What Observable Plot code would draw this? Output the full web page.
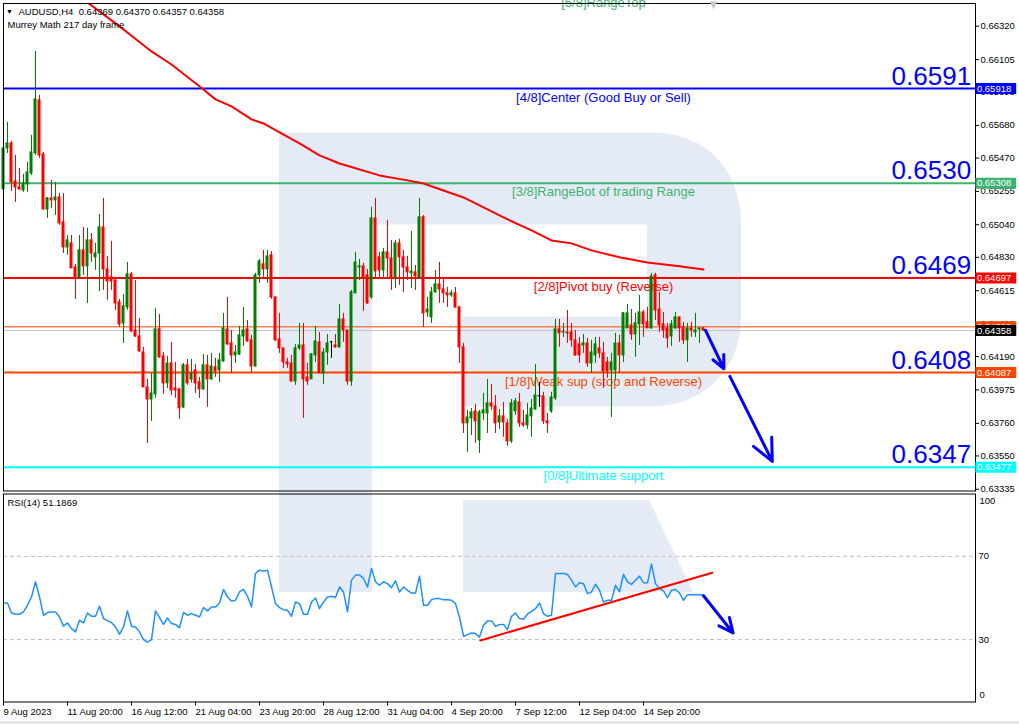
<!DOCTYPE html>
<html><head><meta charset="utf-8">
<script src="https://cdn.jsdelivr.net/npm/d3@7"></script>
<script src="https://cdn.jsdelivr.net/npm/@observablehq/plot@0.6"></script>
<style>
html,body{margin:0;padding:0;background:#fff;}
#wrap{position:relative;width:1019px;height:724px;overflow:hidden;}
#logo{position:absolute;left:0;top:0;}
#main{position:absolute;left:0;top:0;}
#rsi{position:absolute;left:0;top:491px;}
#status{position:absolute;left:0;top:721px;width:1019px;height:3px;background:#e6e6e6;}
</style></head>
<body><div id="wrap">
<svg id="logo" width="1019" height="724">
<path d="M279,132.6 H653 C705,132.6 741,170 741,222 V318 C741,370 703,406.5 651,406.5 H463 V316.5 H647 V224.5 H372 V592 H279 Z" fill="#e5ebf4"/>
<path d="M463,500 H649 L693,592 H463 Z" fill="#e5ebf4"/>
</svg>
<div id="main"></div><div id="rsi"></div><div id="status"></div>
</div>
<script>
// ---------- data ----------
const openP = [0.65268,0.65532,0.65564,0.65319,0.65281,0.65261,0.65300,0.65371,0.65500,0.65842,
0.65493,0.65139,0.65210,0.65197,0.65216,0.65055,0.64894,0.64920,0.64765,0.64701,
0.64875,0.64772,0.64939,0.64830,0.64855,0.65023,0.64752,0.64701,0.64681,0.64540,
0.64404,0.64507,0.64720,0.64359,0.64320,0.64217,0.63992,0.63914,0.63947,0.64366,
0.64192,0.64018,0.64146,0.63985,0.63979,0.63863,0.64134,0.64043,0.64101,0.64024,
0.63979,0.64134,0.64043,0.64121,0.64101,0.64159,0.64366,0.64275,0.64198,0.64204,
0.64320,0.64366,0.64295,0.64127,0.64714,0.64785,0.64752,0.64843,0.64572,0.64301,
0.64243,0.64153,0.64146,0.64030,0.64243,0.64262,0.64056,0.64043,0.64198,0.64282,
0.64082,0.64217,0.64282,0.64262,0.64250,0.64430,0.64359,0.64030,0.64598,0.64765,
0.64772,0.64714,0.64572,0.65081,0.64830,0.64746,0.64862,0.64823,0.64701,0.64920,
0.64830,0.64765,0.64727,0.64733,0.64701,0.65088,0.64475,0.64443,0.64604,0.64656,
0.64623,0.64598,0.64585,0.64598,0.64507,0.64250,0.63760,0.63792,0.63837,0.63650,
0.63824,0.63824,0.63889,0.63869,0.63766,0.63805,0.63760,0.63644,0.63837,0.63895,
0.63760,0.63747,0.63805,0.63850,0.63934,0.63934,0.63773,0.63837,0.63921,0.64366,
0.64346,0.64346,0.64346,0.64295,0.64269,0.64262,0.64275,0.64146,0.64198,0.64243,
0.64211,0.64153,0.64101,0.64101,0.64275,0.64198,0.64372,0.64391,0.64333,0.64398,
0.64475,0.64411,0.64372,0.64714,0.64494,0.64398,0.64372,0.64320,0.64372,0.64443,
0.64378,0.64295,0.64372,0.64346,0.64366,0.64372];
const highP = [0.65629,0.65700,0.65577,0.65487,0.65403,0.65365,0.65442,0.65616,0.66157,0.65874,
0.65506,0.65216,0.65326,0.65313,0.65242,0.65242,0.64971,0.64971,0.64785,0.64971,
0.65023,0.65017,0.64984,0.64920,0.65107,0.65210,0.64836,0.64933,0.64701,0.64559,
0.64591,0.64797,0.64733,0.64681,0.64436,0.64250,0.64043,0.64082,0.64501,0.64462,
0.64217,0.64192,0.64282,0.64153,0.63985,0.64146,0.64172,0.64172,0.64140,0.64056,
0.64204,0.64198,0.64211,0.64179,0.64211,0.64469,0.64572,0.64359,0.64262,0.64385,
0.64507,0.64424,0.64327,0.64727,0.64817,0.64875,0.64875,0.64868,0.64572,0.64469,
0.64243,0.64179,0.64198,0.64269,0.64404,0.64404,0.64146,0.64211,0.64385,0.64346,
0.64243,0.64333,0.64288,0.64333,0.64527,0.64469,0.64359,0.64617,0.64862,0.64817,
0.64791,0.64752,0.65152,0.65210,0.64862,0.64888,0.65068,0.64939,0.64939,0.64946,
0.64875,0.64836,0.64997,0.64778,0.65210,0.65100,0.64572,0.64636,0.64746,0.64797,
0.64694,0.64636,0.64617,0.64636,0.64514,0.64275,0.63844,0.63856,0.63882,0.63844,
0.63953,0.64043,0.64011,0.63940,0.63850,0.63895,0.63786,0.63914,0.63921,0.63953,
0.63844,0.63889,0.63914,0.64140,0.64024,0.63960,0.63824,0.63960,0.64430,0.64430,
0.64404,0.64488,0.64404,0.64359,0.64314,0.64333,0.64308,0.64295,0.64314,0.64314,
0.64282,0.64185,0.64211,0.64340,0.64327,0.64475,0.64527,0.64494,0.64469,0.64585,
0.64488,0.64507,0.64727,0.64727,0.64604,0.64475,0.64404,0.64424,0.64475,0.64443,
0.64411,0.64404,0.64411,0.64469,0.64378,0.64378];
const lowP = [0.65261,0.65500,0.65255,0.65184,0.65261,0.65249,0.65249,0.65358,0.65487,0.65468,
0.65133,0.65081,0.65145,0.65100,0.65036,0.64855,0.64843,0.64759,0.64559,0.64694,
0.64714,0.64533,0.64797,0.64746,0.64610,0.64617,0.64553,0.64617,0.64488,0.64378,
0.64275,0.64488,0.64346,0.64314,0.64217,0.63992,0.63631,0.63773,0.63921,0.64179,
0.63947,0.63985,0.63940,0.63921,0.63786,0.63856,0.64005,0.64018,0.63953,0.63921,
0.63972,0.63863,0.64037,0.64056,0.64024,0.64153,0.64262,0.64082,0.64146,0.64198,
0.64256,0.64282,0.64088,0.64121,0.64662,0.64701,0.64662,0.64559,0.64288,0.64211,
0.64114,0.64114,0.64024,0.64005,0.64230,0.63792,0.64005,0.64043,0.64153,0.64082,
0.64011,0.64134,0.64179,0.64243,0.64243,0.64282,0.64005,0.63998,0.64598,0.64681,
0.64482,0.64527,0.64559,0.64688,0.64688,0.64701,0.64694,0.64617,0.64630,0.64649,
0.64604,0.64681,0.64630,0.64617,0.64688,0.64378,0.64443,0.64404,0.64598,0.64533,
0.64533,0.64507,0.64572,0.64501,0.64146,0.63695,0.63573,0.63682,0.63631,0.63566,
0.63779,0.63695,0.63844,0.63695,0.63721,0.63670,0.63612,0.63631,0.63811,0.63734,
0.63734,0.63721,0.63670,0.63844,0.63863,0.63753,0.63695,0.63824,0.63908,0.64250,
0.64314,0.64275,0.64250,0.64192,0.64146,0.64211,0.64121,0.64082,0.64146,0.64179,
0.63985,0.64050,0.63798,0.64037,0.64082,0.64153,0.64372,0.64295,0.64185,0.64262,
0.64314,0.64372,0.64366,0.64424,0.64346,0.64308,0.64243,0.64256,0.64366,0.64282,
0.64269,0.64153,0.64314,0.64314,0.64275,0.64353];
const closeP = [0.65532,0.65564,0.65313,0.65281,0.65268,0.65307,0.65377,0.65506,0.65848,0.65487,
0.65139,0.65210,0.65197,0.65216,0.65049,0.64894,0.64939,0.64759,0.64694,0.64875,
0.64772,0.64939,0.64855,0.64855,0.65023,0.64752,0.64675,0.64675,0.64533,0.64398,
0.64514,0.64720,0.64353,0.64320,0.64224,0.63992,0.63914,0.63953,0.64366,0.64185,
0.64018,0.64146,0.63972,0.63972,0.63856,0.64134,0.64018,0.64082,0.64018,0.63979,
0.64134,0.64043,0.64127,0.64095,0.64166,0.64372,0.64269,0.64198,0.64217,0.64327,
0.64359,0.64288,0.64127,0.64714,0.64804,0.64752,0.64836,0.64572,0.64295,0.64243,
0.64153,0.64140,0.64030,0.64243,0.64262,0.64043,0.64030,0.64204,0.64288,0.64082,
0.64217,0.64275,0.64282,0.64250,0.64430,0.64359,0.64030,0.64604,0.64797,0.64772,
0.64694,0.64533,0.65081,0.64739,0.64746,0.64862,0.64823,0.64701,0.64920,0.64830,
0.64765,0.64733,0.64739,0.64707,0.65088,0.64469,0.64494,0.64604,0.64656,0.64623,
0.64598,0.64585,0.64598,0.64507,0.64250,0.63760,0.63798,0.63831,0.63773,0.63831,
0.63844,0.63889,0.63869,0.63760,0.63805,0.63766,0.63644,0.63889,0.63902,0.63760,
0.63747,0.63811,0.63856,0.63940,0.63934,0.63773,0.63760,0.63927,0.64366,0.64340,
0.64350,0.64340,0.64295,0.64198,0.64198,0.64275,0.64146,0.64217,0.64269,0.64211,
0.64095,0.64095,0.64153,0.64275,0.64198,0.64469,0.64469,0.64333,0.64404,0.64475,
0.64398,0.64372,0.64707,0.64488,0.64391,0.64359,0.64308,0.64398,0.64443,0.64372,
0.64295,0.64372,0.64359,0.64359,0.64372,0.64358];

// moving average (red curve), sampled bar positions
const maIdx = [10,20,30,37,42,50,53,57,62,65,69,74,79,84,94,101,105,115,125,132,137,142,147,154,161,169,175];
const maVal = [0.66690,0.66492,0.66299,0.66157,0.66073,0.65912,0.65848,0.65803,0.65719,0.65693,0.65635,0.65564,0.65487,0.65435,0.65358,0.65326,0.65306,0.65216,0.65087,0.65004,0.64939,0.64920,0.64875,0.64830,0.64797,0.64772,0.64752];

// RSI(14)
const rsiVal = [47.6,47.6,42.8,42.2,42.2,43.3,46.5,50.5,57.8,50.5,
41.7,43.0,43.3,43.3,40.9,36.5,38.0,35.3,33.7,39.3,
38.0,42.8,41.2,41.2,46.0,40.1,39.0,38.2,36.1,32.5,
36.1,43.8,36.4,36.1,33.7,30.0,28.8,30.0,43.8,40.6,
37.3,40.4,37.7,37.3,35.7,43.1,41.7,42.5,41.7,40.9,
45.4,43.8,45.7,45.7,47.6,54.1,50.5,48.6,48.9,52.9,
54.1,50.8,45.7,61.8,63.4,62.9,63.4,55.3,47.3,45.4,
44.4,44.1,41.2,48.1,47.3,42.2,42.2,48.1,50.0,44.9,
48.1,50.5,50.8,50.2,55.3,52.9,43.3,58.6,61.0,61.0,
59.4,55.3,64.2,57.8,56.1,57.8,56.9,55.0,58.2,52.9,
55.3,53.7,52.4,52.4,60.5,46.5,46.5,49.2,49.7,49.7,
49.2,49.2,48.9,47.3,40.9,31.6,32.4,33.2,32.9,31.2,
36.9,39.0,39.0,36.4,37.2,37.3,34.8,41.2,42.8,40.1,
39.8,42.2,43.6,44.9,47.6,42.5,41.2,41.7,61.8,61.8,
61.8,61.3,58.6,55.3,57.3,56.9,52.1,52.9,56.6,53.7,
48.1,48.9,48.9,56.1,52.9,61.4,57.8,56.5,58.6,60.5,
57.3,57.3,66.3,56.9,54.5,53.4,50.2,53.7,54.1,52.4,
48.9,51.6,51.6,51.6,51.6,51.2];
const rsiLevels = [70, 30];
const rsiTrendIdx = [119.2, 177.2];
const rsiTrendVal = [29.6, 62.1];
const rsiArrow = {x1: 175, y1: 51.1, x2: 182.4, y2: 33.2};

// Murrey levels
const levelVals   = [0.66529, 0.65918, 0.65308, 0.64697, 0.64087, 0.63477];
const levelNames  = ["[5/8]RangeTop", "[4/8]Center (Good Buy or Sell)", "[3/8]RangeBot of trading Range", "[2/8]Pivot buy (Reverse)", "[1/8]Weak sup (stop and Reverse)", "[0/8]Ultimate support"];
const levelColors = ["#3cb371", "#0000ff", "#3cb371", "#ff0000", "#ff4500", "#00ffff"];
const bigLabels   = ["", "0.6591", "0.6530", "0.6469", "0.6408", "0.6347"];
const extraLine = 0.64382, priceLine = 0.64358;

// price boxes on the right scale (drawn in this order)
const boxVals   = [0.64382, 0.65918, 0.65308, 0.64697, 0.64358, 0.64087, 0.63477];
const boxColors = ["#ff4500", "#0000ff", "#3cb371", "#ff0000", "#000000", "#ff4500", "#00ffff"];

const priceTicks = [0.66320,0.66105,0.65893,0.65680,0.65470,0.65255,0.65040,0.64830,0.64615,0.64400,0.64190,0.63975,0.63760,0.63550,0.63335];
const xTickIdx = [0,16,32,48,64,80,96,112,128,144,160];
const xTickLab = ["9 Aug 2023","11 Aug 20:00","16 Aug 12:00","21 Aug 04:00","23 Aug 20:00","28 Aug 12:00","31 Aug 04:00","4 Sep 20:00","7 Sep 12:00","12 Sep 04:00","14 Sep 20:00"];

const arrowsMain = [
  {x1: 175.5, y1: 0.64359, x2: 180.1, y2: 0.64112},
  {x1: 181.6, y1: 0.64063, x2: 192.2, y2: 0.63515}
];

const headerText = "AUDUSD,H4  0.64369 0.64370 0.64357 0.64358";
const subText = "Murrey Math 217 day frame";
const rsiText = "RSI(14) 51.1869";

// ---------- build ----------
const fam = '"Liberation Sans", Arial, Helvetica, sans-serif';
const xDomain = [0, 243];
const bars = openP.map((o, i) => ({i, o, h: highP[i], l: lowP[i], c: closeP[i]}));
const up = bars.filter(d => d.c > d.o), dn = bars.filter(d => d.c < d.o), dj = bars.filter(d => d.c === d.o);
const candleMarks = (arr, col) => [
  Plot.ruleX(arr, {x: "i", y1: "l", y2: "h", stroke: col, strokeWidth: 1}),
  Plot.rect(arr, {x1: d => d.i - 0.375, x2: d => d.i + 0.375, y1: "o", y2: "c", fill: col, insetTop: -0.5, insetBottom: -0.5})
];
const levels = levelVals.map((v, k) => ({v, name: levelNames[k], col: levelColors[k], big: bigLabels[k]}));
const ma = maIdx.map((i, k) => ({i, v: maVal[k]}));
const boxes = boxVals.map((v, k) => ({v, col: boxColors[k]}));
const f5 = d3.format(".5f");

const mainMarks = [
  ...levels.map(L => Plot.ruleY([L], {y: "v", stroke: L.col, strokeWidth: 2})),
  Plot.ruleY([extraLine], {stroke: "#ff4500", strokeWidth: 1}),
  Plot.ruleY([priceLine], {stroke: "#c0c0c0", strokeWidth: 1}),
  ...levels.map(L => Plot.text([L], {x: 150, y: "v", text: "name", fill: L.col, fontSize: 13, dy: 9, lineAnchor: "middle", fontFamily: fam})),
  Plot.line(ma, {x: "i", y: "v", stroke: "#ff0000", strokeWidth: 2, clip: true}),
  ...candleMarks(up, "#008000"),
  ...candleMarks(dn, "#ff0000"),
  ...candleMarks(dj, "#000000"),
  Plot.arrow(arrowsMain, {x1: "x1", y1: "y1", x2: "x2", y2: "y2", stroke: "#0000ff", strokeWidth: 3, headLength: 12, headAngle: 50}),
  Plot.frame({stroke: "#000"}),
  Plot.axisY(priceTicks, {anchor: "right", tickSize: 3, tickPadding: 2, tickFormat: f5, label: null, fontSize: 9.5, fontFamily: fam}),
  ...boxes.flatMap(b => [
    Plot.ruleY([b], {y: "v", x1: 243.1, x2: 253.3, stroke: b.col, strokeWidth: 11}),
    Plot.text([b], {x: 243.35, y: "v", text: d => f5(d.v), fill: "#ffffff", textAnchor: "start", lineAnchor: "middle", fontSize: 9.5, fontFamily: fam})
  ]),
  ...levels.filter(L => L.big).map(L => Plot.text([L], {x: 241.9, y: "v", text: "big", fill: "#0000ff", textAnchor: "end", lineAnchor: "bottom", dy: -4, fontSize: 26, fontFamily: fam})),
  Plot.text(["\u25BC"], {frameAnchor: "top-left", dx: 6, dy: 8.5, fontSize: 7, fill: "#000", lineAnchor: "middle", textAnchor: "middle"}),
  Plot.text([headerText], {frameAnchor: "top-left", dx: 15, dy: 8.5, fontSize: 9.5, fill: "#000", lineAnchor: "middle", textAnchor: "start", fontFamily: fam}),
  Plot.text([subText], {frameAnchor: "top-left", dx: 4, dy: 21.5, fontSize: 9.5, fill: "#000", lineAnchor: "middle", textAnchor: "start", fontFamily: fam}),
  Plot.text(["\u25BC"], {x: 177.5, frameAnchor: "top", dy: 1, fontSize: 13, fill: "#c8c8c8", lineAnchor: "middle"})
];

const mainPlot = Plot.plot({
  width: 1019, height: 492,
  marginLeft: 3, marginRight: 44, marginTop: 3, marginBottom: 1.5,
  style: {background: "transparent", fontFamily: fam, fontSize: "9.5px", color: "#000"},
  x: {domain: xDomain, axis: null},
  y: {domain: [0.63324, 0.66466]},
  marks: mainMarks
});
document.getElementById("main").appendChild(mainPlot);

const rsiData = rsiVal.map((v, i) => ({i, v}));
const trend = rsiTrendIdx.map((i, k) => ({i, v: rsiTrendVal[k]}));
const rsiPlot = Plot.plot({
  width: 1019, height: 233,
  marginLeft: 3, marginRight: 44, marginTop: 2.5, marginBottom: 22.5,
  style: {background: "transparent", fontFamily: fam, fontSize: "9.5px", color: "#000"},
  x: {domain: xDomain},
  y: {domain: [0, 100]},
  marks: [
    Plot.ruleY(rsiLevels, {stroke: "#c0c0c0", strokeDasharray: "4,3"}),
    Plot.line(rsiData, {x: "i", y: "v", stroke: "#1e90ff", strokeWidth: 1.5}),
    Plot.line(trend, {x: "i", y: "v", stroke: "#ff0000", strokeWidth: 2}),
    Plot.arrow([rsiArrow], {x1: "x1", y1: "y1", x2: "x2", y2: "y2", stroke: "#0000ff", strokeWidth: 3, headLength: 11, headAngle: 50}),
    Plot.frame({stroke: "#000"}),
    Plot.axisY(rsiLevels, {anchor: "right", tickSize: 0, tickPadding: 3, label: null, fontSize: 9.5, fontFamily: fam}),
    Plot.text(["100"], {frameAnchor: "top-right", dx: 4, dy: 7, textAnchor: "start", lineAnchor: "middle", fontSize: 9.5, fill: "#000", fontFamily: fam}),
    Plot.text(["0"], {frameAnchor: "bottom-right", dx: 4, dy: -7, textAnchor: "start", lineAnchor: "middle", fontSize: 9.5, fill: "#000", fontFamily: fam}),
    Plot.axisX(xTickIdx, {anchor: "bottom", tickSize: 4, tickPadding: 2, textAnchor: "start", tickFormat: d => xTickLab[xTickIdx.indexOf(d)], label: null, fontSize: 9.5, fontFamily: fam}),
    Plot.text([rsiText], {frameAnchor: "top-left", dx: 4, dy: 9, textAnchor: "start", lineAnchor: "middle", fontSize: 9.5, fill: "#000", fontFamily: fam})
  ]
});
document.getElementById("rsi").appendChild(rsiPlot);
</script>
</body></html>
